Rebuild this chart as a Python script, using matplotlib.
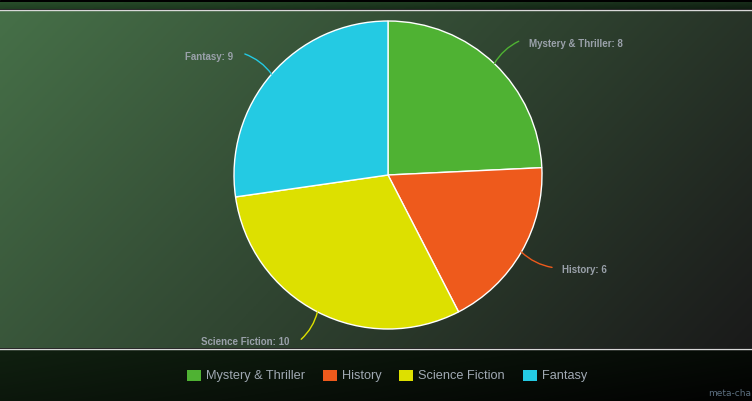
import numpy as np
import matplotlib
matplotlib.use("Agg")
import matplotlib.pyplot as plt
from matplotlib.patches import Patch

categories = ["Mystery & Thriller", "History", "Science Fiction", "Fantasy"]
values = [8, 6, 10, 9]
colors = ["#4fb233", "#ee5a1c", "#dde000", "#24cae3"]

W, H = 752, 401
fig = plt.figure(figsize=(W / 100, H / 100), dpi=100)

# background, in pixel coords (y down)
bg = fig.add_axes([0, 0, 1, 1])
bg.set_xlim(0, W)
bg.set_ylim(H, 0)
bg.axis("off")
bg.add_patch(plt.Rectangle((0, 0), W, H, color="black", zorder=0))


def grad(c0, c1, w, h):
    xx, yy = np.meshgrid(np.linspace(0, 1, w), np.linspace(0, 1, h))
    t = (xx * 0.7 + yy * 0.3)[..., None]
    return (np.array(c0) * (1 - t) + np.array(c1) * t) / 255.0


bg.imshow(grad((40, 78, 42), (16, 30, 18), 200, 10), extent=[0, W, 9, 2], aspect="auto", zorder=1)
bg.imshow(grad((70, 112, 72), (26, 26, 26), 300, 200), extent=[0, W, 348, 11], aspect="auto", zorder=1)
bg.imshow(grad((16, 32, 16), (2, 2, 2), 300, 50), extent=[0, W, H, 350], aspect="auto", zorder=1)
bg.plot([0, W], [10, 10], color="#d8d8d8", lw=1, zorder=2)
bg.plot([0, W], [349, 349], color="#d8d8d8", lw=1, zorder=2)
bg.text(751, 393, "meta-cha", color="#5c6f80", fontsize=6.5, va="center", ha="right", zorder=3)

# pie, axes in pixel units centred on the pie
cx, cy, R = 388, 175, 154
ax = fig.add_axes([(cx - 200) / W, (H - cy - 200) / H, 400 / W, 400 / H])
wedges, _ = ax.pie(values, colors=colors, radius=R, startangle=90, counterclock=False,
                   wedgeprops=dict(edgecolor="white", linewidth=1))
ax.set_xlim(-200, 200)
ax.set_ylim(-200, 200)
ax.axis("off")

for w, lab, v, c in zip(wedges, categories, values, colors):
    ang = np.deg2rad((w.theta1 + w.theta2) / 2)
    ex, ey = R * np.cos(ang), R * np.sin(ang)
    lx, ly = 1.23 * R * np.cos(ang), 1.2 * R * np.sin(ang)
    right = np.cos(ang) > 0
    rad = 0.15 if right else -0.15
    if np.sin(ang) < 0:
        rad = -rad
    ax.annotate("", xy=(ex, ey), xytext=(lx, ly),
                arrowprops=dict(arrowstyle="-", color=c, lw=1,
                                connectionstyle=f"arc3,rad={rad}", shrinkA=0, shrinkB=0))
    ax.text(lx + (10 if right else -12), ly - 3, f"{lab}: {v}",
            ha="left" if right else "right", va="center", family="Liberation Sans",
            color="#9aa1aa", fontsize=7, fontweight="bold")

handles = [Patch(facecolor=c, edgecolor="none") for c in colors]
leg = fig.legend(handles, categories, loc="center", bbox_to_anchor=(387 / W, (H - 376) / H),
                 ncol=4, frameon=False, prop=dict(family="Liberation Sans", size=9.2),
                 labelcolor="#a0a9b3",
                 handlelength=1.1, handleheight=0.95, handletextpad=0.4, columnspacing=1.4)

fig.savefig("out.png", dpi=100)
